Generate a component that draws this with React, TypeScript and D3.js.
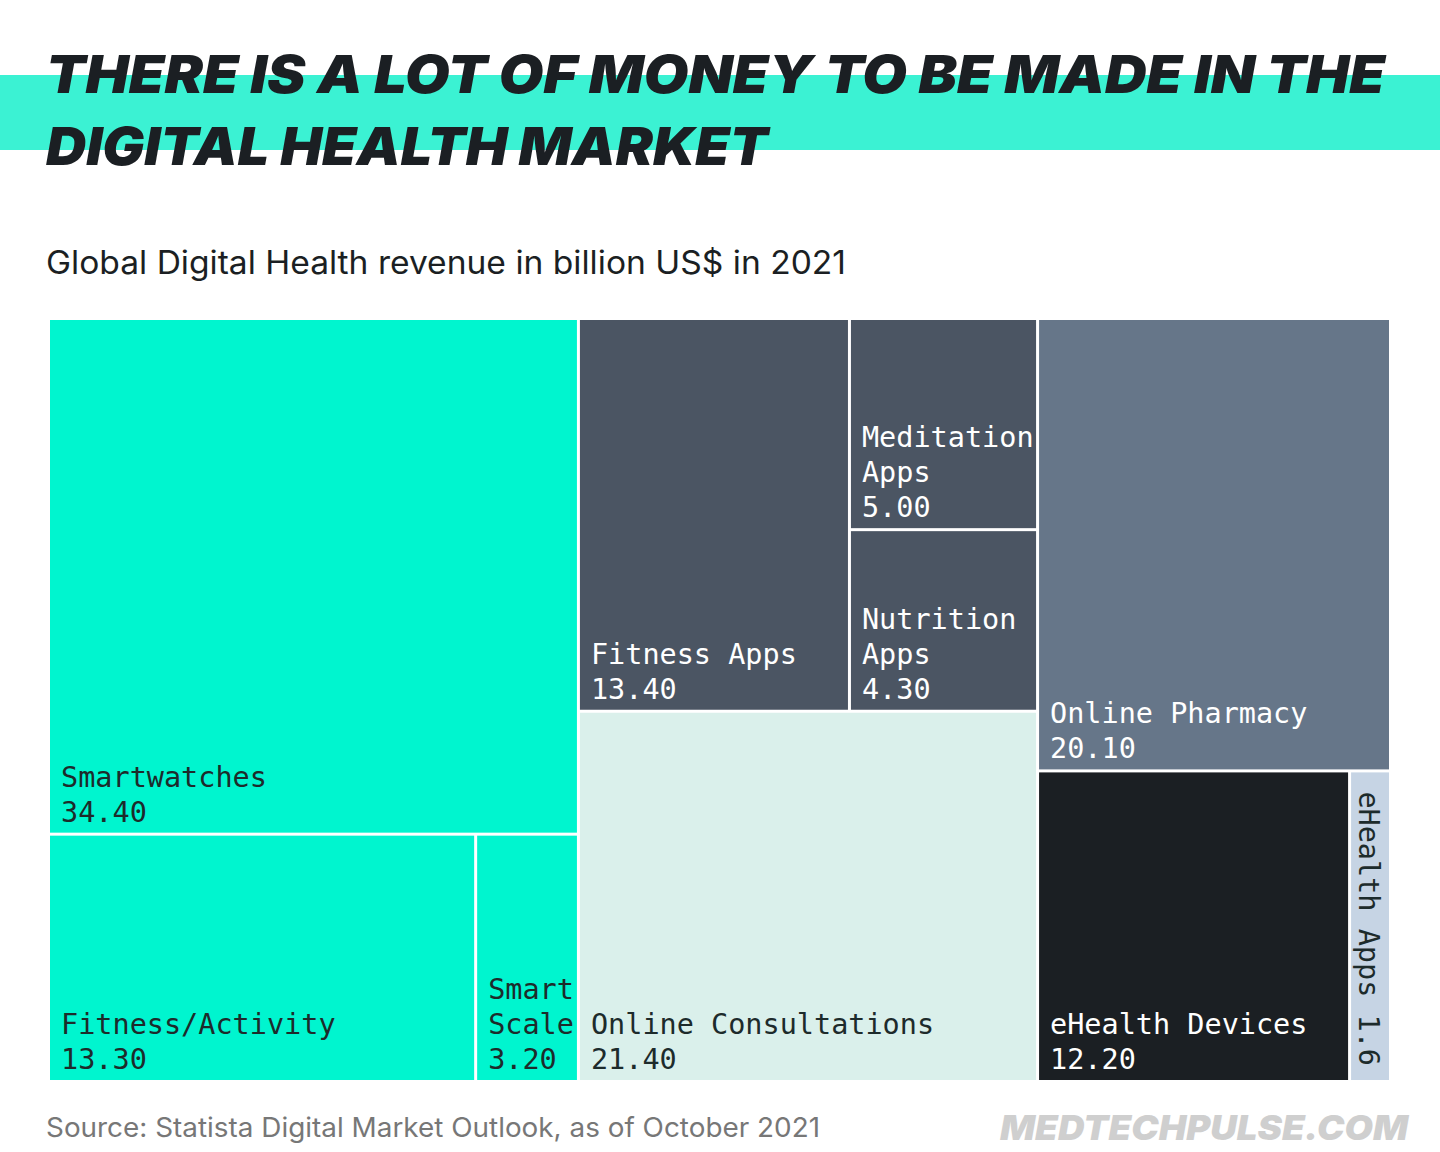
import React from "react";
import * as d3 from "d3";

const groups = ["Wearables", "Digital Fitness", "Online Doctor", "Online Pharmacy", "eHealth"];
const segmentNames = [
  "Smartwatches", "Fitness/Activity", "Smart Scale",
  "Fitness Apps", "Meditation Apps", "Nutrition Apps",
  "Online Consultations", "Online Pharmacy", "eHealth Devices", "eHealth Apps",
];
const segmentValues = [34.4, 13.3, 3.2, 13.4, 5.0, 4.3, 21.4, 20.1, 12.2, 1.6];
const segmentLabels = [
  ["Smartwatches"], ["Fitness/Activity"], ["Smart", "Scale"],
  ["Fitness Apps"], ["Meditation", "Apps"], ["Nutrition", "Apps"],
  ["Online Consultations"], ["Online Pharmacy"], ["eHealth Devices"], ["eHealth Apps"],
];
const valueLabels = ["34.40", "13.30", "3.20", "13.40", "5.00", "4.30", "21.40", "20.10", "12.20", "1.6"];
const segmentColors = [
  "#00F5CF", "#00F5CF", "#00F5CF",
  "#4B5563", "#4B5563", "#4B5563",
  "#DAF0EB", "#667689", "#1B1F23", "#C6D4E4",
];
const darkText = [true, true, true, false, false, false, true, false, false, true];

type N = { name: string; value?: number; idx?: number; children?: N[] };
const leaf = (i: number): N => ({ name: segmentNames[i], value: segmentValues[i], idx: i });

const treeData: N = {
  name: "root",
  children: [
    { name: groups[0], children: [leaf(0), { name: "w-row", children: [leaf(1), leaf(2)] }] },
    {
      name: "col2",
      children: [
        { name: groups[1], children: [leaf(3), { name: "mn", children: [leaf(4), leaf(5)] }] },
        leaf(6),
      ],
    },
    { name: "col3", children: [leaf(7), { name: groups[4], children: [leaf(8), leaf(9)] }] },
  ],
};

export default function App() {
  const W = 1440, H = 1152;
  const X0 = 48.5, X1 = 1390.5, Y0 = 318.5, Y1 = 1081.5;
  const root = d3.hierarchy<N>(treeData).sum((d) => d.value ?? 0);
  d3.treemap<N>().tile(d3.treemapSliceDice).size([X1 - X0, Y1 - Y0]).round(false)(root);
  const leaves = root.leaves() as d3.HierarchyRectangularNode<N>[];
  const inset = 1.5;
  const mono = "'DejaVu Sans Mono', 'Liberation Mono', monospace";
  const fs = 28.5;
  const lh = 35;

  return (
    <svg width={W} height={H} style={{ display: "block", position: "absolute", left: 0, top: 0 }}>
      <rect x={0} y={0} width={W} height={H} fill="#ffffff" />
      <rect x={0} y={75} width={W} height={75} fill="#3BF2D3" />
      <g fontFamily="Inter, 'Open Sans', sans-serif" fontWeight={900} fontStyle="italic" fill="#1B1F23">
        <text x={46} y={93} fontSize={52} textLength={1339} lengthAdjust="spacingAndGlyphs">
          THERE IS A LOT OF MONEY TO BE MADE IN THE
        </text>
        <text x={46} y={165} fontSize={52} textLength={722} lengthAdjust="spacingAndGlyphs">
          DIGITAL HEALTH MARKET
        </text>
      </g>
      <text x={46} y={274} fontSize={32} fontFamily="Inter, 'Open Sans', sans-serif" fill="#1B1F23"
        textLength={800} lengthAdjust="spacingAndGlyphs">
        Global Digital Health revenue in billion US$ in 2021
      </text>

      <g transform={`translate(${X0},${Y0})`}>
        {leaves.map((l) => {
          const i = l.data.idx as number;
          const x = l.x0 + inset, y = l.y0 + inset;
          const w = l.x1 - l.x0 - 2 * inset, h = l.y1 - l.y0 - 2 * inset;
          const col = darkText[i] ? "#1D2B2B" : "#FFFFFF";
          const lines = [...segmentLabels[i], valueLabels[i]];
          if (i === 9) {
            return (
              <g key={i}>
                <rect x={x} y={y} width={w} height={h} fill={segmentColors[i]} />
                <text transform={`translate(${x + 8},${y + 19}) rotate(90)`} fontFamily={mono} fontSize={fs}
                  fill={col}>
                  {lines.join(" ").replace("Apps ", "Apps ")}
                </text>
              </g>
            );
          }
          const baseY = y + h - 11;
          return (
            <g key={i}>
              <rect x={x} y={y} width={w} height={h} fill={segmentColors[i]} />
              <text fontFamily={mono} fontSize={fs} fill={col}>
                {lines.map((s, k) => (
                  <tspan key={k} x={x + 11} y={baseY - (lines.length - 1 - k) * lh}>{s}</tspan>
                ))}
              </text>
            </g>
          );
        })}
      </g>

      <text x={46} y={1137} fontSize={27} fontFamily="Inter, 'Open Sans', sans-serif" fill="#777777"
        textLength={774} lengthAdjust="spacingAndGlyphs">
        Source: Statista Digital Market Outlook, as of October 2021
      </text>
      <text x={1000} y={1140} fontSize={34} fontFamily="Inter, 'Open Sans', sans-serif" fontWeight={900}
        fontStyle="italic" fill="#CFCFCF" textLength={408} lengthAdjust="spacingAndGlyphs">
        MEDTECHPULSE.COM
      </text>
    </svg>
  );
}
